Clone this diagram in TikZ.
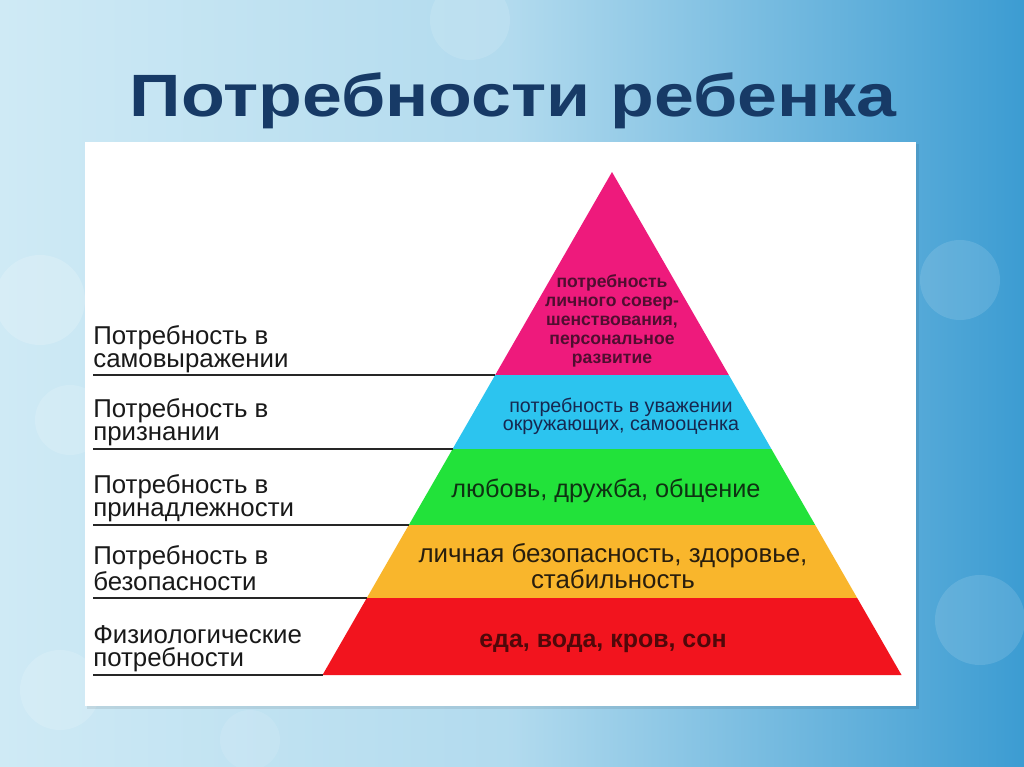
\documentclass[tikz,border=0pt]{standalone}
\usepackage{fontspec}
\setmainfont{Liberation Sans}
\usetikzlibrary{calc}
\definecolor{bgL}{HTML}{CFEAF5}
\definecolor{bgR}{HTML}{3C9CD2}
\definecolor{navy}{HTML}{173A66}
\definecolor{pk}{HTML}{EE1A7C}
\definecolor{bl}{HTML}{2CC4EF}
\definecolor{gr}{HTML}{22E23A}
\definecolor{og}{HTML}{F9B62C}
\definecolor{rd}{HTML}{F2141E}
\tikzset{
  lbl/.style={anchor=south west, inner sep=0pt, align=left, text depth=0pt,
    font={\fontsize{14.7}{13.2}\selectfont}, text=black!90},
  ptxt/.style={inner sep=0pt, align=center},
  rule/.style={line width=1.2pt, draw=black!85},
}
\begin{document}
\begin{tikzpicture}[x=0.02cm,y=-0.02cm]
\useasboundingbox (0,0) rectangle (1024,767);
% background
\shade[left color=bgL, right color=bgR, middle color=bgL!80!bgR] (0,0) rectangle (1024,767);
\fill[white,opacity=0.18] (40,300) circle (45);
\fill[white,opacity=0.15] (70,420) circle (35);
\fill[white,opacity=0.12] (960,280) circle (40);
\fill[white,opacity=0.12] (980,620) circle (45);
\fill[white,opacity=0.14] (60,690) circle (40);
\fill[white,opacity=0.12] (470,20) circle (40);
\fill[white,opacity=0.10] (250,740) circle (30);
% title
\node[inner sep=0pt, anchor=base, text=navy, font={\fontsize{34}{38}\selectfont\bfseries}] (title) at (513,116) {\scalebox{1.2}[1]{Потребности ребенка}};
% white panel
\fill[black,opacity=0.08] (87,144) rectangle (919,709);
\fill[white] (85,142) rectangle (916,706);
% pyramid corners
\coordinate (apex) at (612,172);
\coordinate (L1) at (495.2,375); \coordinate (R1) at (728.8,375);
\coordinate (L2) at (452.6,449); \coordinate (R2) at (771.4,449);
\coordinate (L3) at (408.8,525); \coordinate (R3) at (815.2,525);
\coordinate (L4) at (366.8,598); \coordinate (R4) at (857.2,598);
\coordinate (L5) at (322.5,675); \coordinate (R5) at (901.5,675);
\fill[pk] (apex) -- (R1) -- (L1) -- cycle;
\fill[bl] (L1) -- (R1) -- (R2) -- (L2) -- cycle;
\fill[gr] (L2) -- (R2) -- (R3) -- (L3) -- cycle;
\fill[og] (L3) -- (R3) -- (R4) -- (L4) -- cycle;
\fill[rd] (L4) -- (R4) -- (R5) -- (L5) -- cycle;
% rules
\coordinate (S1) at (93,375);
\coordinate (S2) at (93,449);
\coordinate (S3) at (93,525);
\coordinate (S4) at (93,598);
\coordinate (S5) at (93,675);
\draw[rule] (S1) -- (L1);
\draw[rule] (S2) -- (L2);
\draw[rule] (S3) -- (L3);
\draw[rule] (S4) -- (L4);
\draw[rule] (S5) -- (L5);
% left labels
\node[lbl] (t1) at (93,368) {Потребность в\\самовыражении};
\node[lbl] (t2) at (93,441) {Потребность в\\признании};
\node[lbl] (t3) at (93,517) {Потребность в\\принадлежности};
\node[lbl] (t4) at (93,591) {Потребность в\\безопасности};
\node[lbl] (t5) at (93,667) {Физиологические\\потребности};
% pyramid texts
\node[ptxt, text={rgb,255:red,80;green,14;blue,48}, font={\fontsize{10}{10.8}\selectfont\bfseries}] (p1) at (612,321)
  {потребность\\личного совер-\\шенствования,\\персональное\\развитие};
\node[ptxt, text={rgb,255:red,22;green,40;blue,80}, font={\fontsize{11.2}{10.2}\selectfont}] (p2) at (621,416)
  {потребность в уважении\\окружающих, самооценка};
\node[ptxt, text={rgb,255:red,14;green,50;blue,18}, font={\fontsize{14.4}{14}\selectfont}] (p3) at (606,491)
  {любовь, дружба, общение};
\node[ptxt, text={rgb,255:red,40;green,30;blue,14}, font={\fontsize{14.75}{12}\selectfont}] (p4) at (613,566)
  {личная безопасность, здоровье,\\стабильность};
\node[ptxt, text={rgb,255:red,80;green,8;blue,10}, font={\fontsize{14.2}{13}\selectfont\bfseries}] (p5) at (603,643)
  {еда, вода, кров, сон};
\end{tikzpicture}
\end{document}
